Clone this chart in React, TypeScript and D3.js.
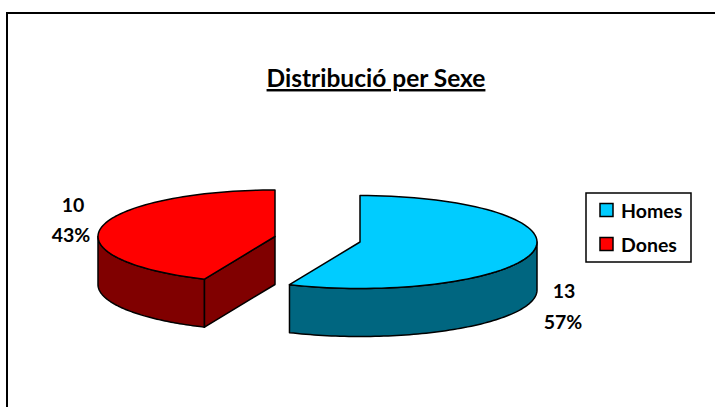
import React from "react";
import * as d3 from "d3";

const categories = ["Homes", "Dones"];
const values = [13, 10];
const percents = ["57%", "43%"];
const topColors = ["#00ccff", "#ff0000"];
const sideColors = ["#006680", "#800000"];

const width = 715;
const height = 407;
const rx = 177;
const ry = 46.5;
const depth = 48;

const pie = d3.pie<number>().sort(null);
const arcs = pie(values);

// slice centres, the red one is pulled out of the pie
const centers = [
    { x: 360, y: 242 },
    { x: 275, y: 236.5 },
];

const line = d3.line();

const App = () => {
    const pt = (i: number, a: number, dy = 0): [number, number] => [
        centers[i].x + rx * Math.sin(a),
        centers[i].y - ry * Math.cos(a) + dy,
    ];
    const rim = (i: number, a0: number, a1: number, dy = 0) => {
        const n = 80;
        return d3.range(n + 1).map(k => pt(i, a0 + ((a1 - a0) * k) / n, dy));
    };

    const top = (i: number) => {
        const c: [number, number] = [centers[i].x, centers[i].y];
        return line([c, ...rim(i, arcs[i].startAngle, arcs[i].endAngle), c]) + "Z";
    };

    // outer wall, only the part facing the viewer
    const wall = (i: number) => {
        const a0 = Math.max(arcs[i].startAngle, Math.PI / 2);
        const a1 = Math.min(arcs[i].endAngle, (3 * Math.PI) / 2);
        const upper = rim(i, a0, a1);
        const lower = rim(i, a1, a0, depth);
        return line([...upper, ...lower]) + "Z";
    };

    // cut face of the red slice
    const a = arcs[1].startAngle;
    const c1: [number, number] = [centers[1].x, centers[1].y];
    const cut = line([c1, pt(1, a), pt(1, a, depth), [c1[0], c1[1] + depth]]) + "Z";

    return (
        <svg width={width} height={height} style={{ position: "absolute", left: 0, top: 0, background: "#fff" }}
            fontFamily="Lato, Carlito, sans-serif" fontWeight="bold" fill="#000">
            <path d={`M7,${height}V13H${width}`} fill="none" stroke="#000" strokeWidth={2} />

            <text x={376} y={87} textAnchor="middle" fontSize={24.5} textDecoration="underline">Distribució per Sexe</text>

            <path d={wall(1)} fill={sideColors[1]} stroke="#000" strokeWidth={1.5} strokeLinejoin="round" />
            <path d={cut} fill={sideColors[1]} stroke="#000" strokeWidth={1.5} strokeLinejoin="round" />
            <path d={top(1)} fill={topColors[1]} stroke="#000" strokeWidth={1.5} strokeLinejoin="round" />

            <path d={wall(0)} fill={sideColors[0]} stroke="#000" strokeWidth={1.5} strokeLinejoin="round" />
            <path d={top(0)} fill={topColors[0]} stroke="#000" strokeWidth={1.5} strokeLinejoin="round" />

            <g fontSize={19.5} textAnchor="middle">
                <text x={564} y={298}>{values[0]}</text>
                <text x={563} y={329}>{percents[0]}</text>
                <text x={73} y={212}>{values[1]}</text>
                <text x={71} y={242}>{percents[1]}</text>
            </g>

            <rect x={586} y={193} width={105} height={69} fill="#fff" stroke="#000" strokeWidth={1.5} />
            {categories.map((c, i) => (
                <g key={c} transform={`translate(0,${i * 34})`}>
                    <rect x={600} y={203.5} width={13} height={13} fill={topColors[i]} stroke="#000" strokeWidth={1.5} />
                    <text x={621} y={218} fontSize={19.5}>{c}</text>
                </g>
            ))}
        </svg>
    );
};

export default App;
